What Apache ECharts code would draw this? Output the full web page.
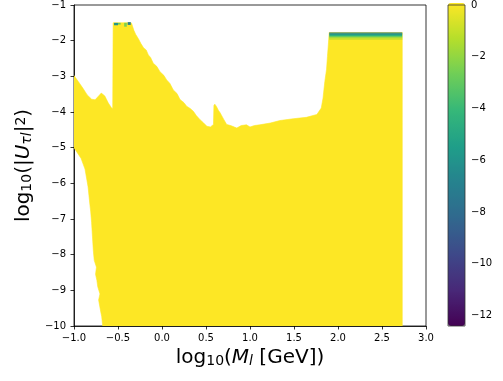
<!DOCTYPE html>
<html>
<head>
<meta charset="utf-8">
<script src="https://cdn.jsdelivr.net/npm/echarts@6/dist/echarts.min.js"></script>
<style>html,body{margin:0;padding:0;background:#fff}#c{width:503px;height:381px}</style>
</head>
<body>
<div id="c"></div>
<script>
// Upper boundary of the allowed region (left to right), log10(M) vs log10(|U|^2)
const topX = [-1.00,-0.95,-0.90,-0.85,-0.80,-0.76,-0.72,-0.69,-0.65,-0.61,-0.575,-0.56,-0.555,-0.35,-0.345,-0.32,-0.30,-0.27,-0.24,-0.21,-0.18,-0.155,-0.13,-0.10,-0.06,-0.023,0.02,0.053,0.09,0.128,0.17,0.205,0.25,0.28,0.32,0.356,0.39,0.43,0.47,0.51,0.55,0.585,0.59,0.60,0.62,0.64,0.66,0.70,0.735,0.78,0.85,0.90,0.96,1.00,1.05,1.11,1.23,1.34,1.49,1.64,1.76,1.81,1.83,1.85,1.87,1.88,1.89,1.90,2.73];
const topY = [-2.98,-3.15,-3.33,-3.52,-3.64,-3.66,-3.55,-3.47,-3.55,-3.75,-3.88,-3.90,-1.50,-1.50,-1.52,-1.71,-1.82,-1.94,-2.08,-2.20,-2.26,-2.40,-2.47,-2.63,-2.72,-2.87,-2.97,-3.10,-3.20,-3.38,-3.48,-3.65,-3.74,-3.84,-3.90,-3.98,-4.10,-4.21,-4.30,-4.40,-4.42,-4.35,-3.82,-3.78,-3.85,-3.95,-4.02,-4.20,-4.35,-4.38,-4.45,-4.38,-4.36,-4.42,-4.38,-4.36,-4.31,-4.24,-4.19,-4.15,-4.07,-3.89,-3.61,-3.15,-2.80,-2.45,-2.12,-1.77,-1.77];
// Lower-left boundary of the region (bottom to top), ending at the left axis
const leftX = [2.73,-0.674,-0.685,-0.70,-0.72,-0.705,-0.73,-0.74,-0.755,-0.745,-0.77,-0.78,-0.79,-0.80,-0.81,-0.82,-0.84,-0.875,-0.92,-0.96,-1.00];
const leftY = [-10.00,-10.00,-9.74,-9.55,-9.27,-9.10,-8.90,-8.72,-8.55,-8.35,-8.16,-7.90,-7.50,-7.10,-6.80,-6.58,-6.10,-5.60,-5.30,-5.15,-5.00];
// Top-edge colour bands (x0, x1, y top, y bottom, value)
const bandX0 = [1.90,1.90,1.90,1.90,1.90,1.90,-0.545,-0.50,-0.43,-0.39];
const bandX1 = [2.73,2.73,2.73,2.73,2.73,2.73,-0.50,-0.47,-0.40,-0.355];
const bandYT = [-1.77,-1.80,-1.835,-1.87,-1.905,-1.94,-1.50,-1.50,-1.50,-1.48];
const bandYB = [-1.80,-1.835,-1.87,-1.905,-1.94,-1.975,-1.56,-1.54,-1.60,-1.55];
const bandV  = [-7.5,-6.0,-4.5,-3.0,-1.8,-0.8,-6.0,-3.0,-2.5,-7.0];
// Axis ticks
const xTicks = [-1.0,-0.5,0.0,0.5,1.0,1.5,2.0,2.5,3.0];
const yTicks = [-10,-9,-8,-7,-6,-5,-4,-3,-2,-1];
const cbTicks = [0,-2,-4,-6,-8,-10,-12];
const cbMin = -12.4, cbMax = 0;
const viridis = ['#440154','#482878','#3e4989','#31688e','#26828e','#1f9e89','#35b779','#6ece58','#b5de2b','#fde725'];

const regionX = topX.concat(leftX);
const regionY = topY.concat(leftY);
const minus = s => String(s).replace('-', '\u2212');

const chart = echarts.init(document.getElementById('c'), null, {renderer: 'canvas'});
const bandData = bandX0.map((x, i) => [x, bandX1[i], bandYT[i], bandYB[i], bandV[i]]);
const fontF = 'DejaVu Sans';
const richStyle = {
  n: {fontSize: 20, lineHeight: 20, fontFamily: fontF, color: '#000'},
  i: {fontSize: 20, lineHeight: 20, fontFamily: fontF, fontStyle: 'italic', color: '#000'},
  s: {fontSize: 14, lineHeight: 10, fontFamily: fontF, color: '#000', verticalAlign: 'bottom'},
  si: {fontSize: 14, lineHeight: 10, fontFamily: fontF, fontStyle: 'italic', color: '#000', verticalAlign: 'bottom'},
  p: {fontSize: 14, lineHeight: 10, fontFamily: fontF, color: '#000', verticalAlign: 'top'}
};
chart.setOption({
  animation: false,
  grid: [
    {left: 74, top: 3, width: 352, height: 323, show: true, borderColor: '#000', borderWidth: 0.8, backgroundColor: 'transparent'},
    {left: 448, top: 3, width: 17, height: 323, show: true, borderColor: '#333', borderWidth: 0.8, backgroundColor: 'transparent', z: 10}
  ],
  xAxis: [
    {type: 'value', gridIndex: 0, min: -1, max: 3, interval: 0.5,
     axisLine: {show: true, onZero: false, lineStyle: {color: '#000', width: 0.8}},
     axisTick: {show: true, length: 3.5, lineStyle: {color: '#000', width: 0.8}},
     axisLabel: {color: '#000', fontSize: 10, fontFamily: fontF, margin: 7,
       formatter: v => minus(v.toFixed(1))},
     splitLine: {show: false},
     name: '{n|log}{s|10}{n|(}{i|M}{si|l}{n| [GeV])}', nameLocation: 'middle', nameGap: 13,
     nameTextStyle: {rich: richStyle}},
    {type: 'value', gridIndex: 1, min: 0, max: 1, show: false}
  ],
  yAxis: [
    {type: 'value', gridIndex: 0, min: -10, max: -1, interval: 1,
     axisLine: {show: true, onZero: false, lineStyle: {color: '#000', width: 0.8}},
     axisTick: {show: true, length: 3.5, lineStyle: {color: '#000', width: 0.8}},
     axisLabel: {color: '#000', fontSize: 10, fontFamily: fontF, margin: 8, formatter: v => minus(v)},
     splitLine: {show: false},
     name: '{n|log}{s|10}{n|(|}{i|U}{si|\u03c4l}{n||}{p|2}{n|)}', nameLocation: 'middle', nameGap: 35, nameRotate: 90,
     nameTextStyle: {rich: richStyle}},
    {type: 'value', gridIndex: 1, min: cbMin, max: cbMax, position: 'right',
     axisLine: {show: false},
     axisTick: {show: true, length: 3.5, customValues: cbTicks, lineStyle: {color: '#000', width: 0.8}},
     axisLabel: {color: '#000', fontSize: 10, fontFamily: fontF, margin: 6, customValues: cbTicks, formatter: v => minus(v)},
     splitLine: {show: false}}
  ],
  visualMap: {
    type: 'continuous', min: cbMin, max: cbMax, dimension: 4, seriesIndex: [0, 1],
    orient: 'vertical', left: 448, top: 3, itemWidth: 17, itemHeight: 323, padding: 0,
    calculable: false, realtime: false, hoverLink: false, text: null, showLabel: false,
    inRange: {color: viridis}
  },
  series: [
    {type: 'custom', xAxisIndex: 0, yAxisIndex: 0, clip: true,
     encode: {x: [0, 1], y: [2, 3]},
     data: [[-1, 2.73, -10, -1.5, 0]],
     renderItem: (params, api) => {
       const pts = regionX.map((x, i) => api.coord([x, regionY[i]]));
       return {type: 'polygon', shape: {points: pts}, style: {fill: api.visual('color'), stroke: api.visual('color'), lineWidth: 0.6}};
     }},
    {type: 'custom', xAxisIndex: 0, yAxisIndex: 0, clip: true,
     encode: {x: [0, 1], y: [2, 3]},
     data: bandData,
     renderItem: (params, api) => {
       const p0 = api.coord([api.value(0), api.value(2)]);
       const p1 = api.coord([api.value(1), api.value(3)]);
       return {type: 'rect', shape: {x: p0[0], y: p0[1], width: p1[0] - p0[0], height: p1[1] - p0[1] + 0.3},
               style: {fill: api.visual('color')}};
     }}
  ]
});
</script>
</body>
</html>
